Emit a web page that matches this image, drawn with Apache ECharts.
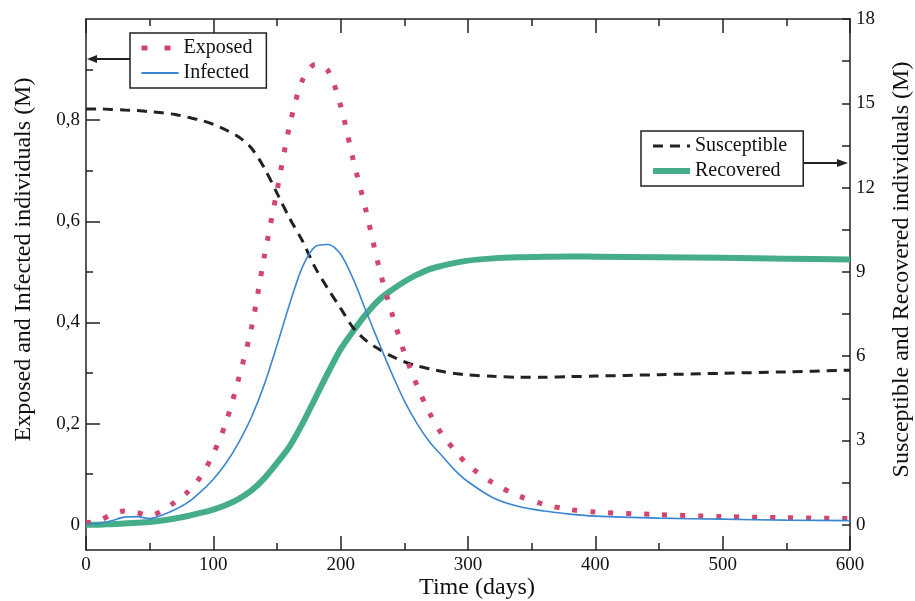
<!DOCTYPE html>
<html>
<head>
<meta charset="utf-8">
<script src="https://cdn.jsdelivr.net/npm/echarts@6/dist/echarts.min.js"></script>
<style>
html,body{margin:0;padding:0;background:#fff;overflow:hidden;width:915px;height:601px;}
#c{width:915px;height:601px;}
</style>
</head>
<body>
<div id="c"></div>
<script>
const days = [0,10,20,30,40,50,60,70,80,90,100,110,120,130,140,150,160,170,180,190,200,210,220,230,240,250,260,270,280,290,300,320,340,360,380,400,450,500,550,600];
const exposed = [0.004,0.008,0.02,0.027,0.024,0.018,0.028,0.045,0.065,0.095,0.14,0.203,0.29,0.39,0.53,0.66,0.79,0.879,0.91,0.898,0.828,0.72,0.62,0.51,0.42,0.34,0.275,0.22,0.177,0.146,0.118,0.082,0.057,0.040,0.030,0.025,0.020,0.016,0.014,0.012];
const infected = [0.002,0.003,0.008,0.015,0.016,0.012,0.019,0.03,0.044,0.065,0.09,0.122,0.163,0.213,0.277,0.355,0.437,0.51,0.55,0.554,0.535,0.485,0.422,0.36,0.30,0.245,0.20,0.163,0.135,0.107,0.085,0.053,0.036,0.027,0.021,0.017,0.013,0.011,0.009,0.008];
const susceptible = [14.8,14.8,14.78,14.76,14.74,14.7,14.66,14.6,14.5,14.4,14.25,14.05,13.8,13.4,12.7,11.8,10.9,10.1,9.15,8.4,7.7,7.0,6.55,6.25,6.0,5.8,5.65,5.55,5.45,5.38,5.33,5.28,5.25,5.25,5.27,5.29,5.34,5.39,5.44,5.5];
const recovered = [0,0.0,0.02,0.04,0.07,0.1,0.15,0.22,0.31,0.42,0.54,0.7,0.92,1.22,1.65,2.2,2.8,3.6,4.5,5.4,6.25,6.9,7.5,8.0,8.35,8.65,8.9,9.1,9.22,9.32,9.4,9.48,9.52,9.54,9.55,9.54,9.52,9.5,9.47,9.44];
const leftLabels = [0,0.2,0.4,0.6,0.8];
const leftMinor = [0.1,0.3,0.5,0.7,0.9];
const rightLabels = [0,3,6,9,12,15,18];
const rightTicks = [0,1.5,3,4.5,6,7.5,9,10.5,12,13.5,15,16.5,18];

const FONT = "'Liberation Serif','Times New Roman',serif";
const AX = '#222';
const C_EXP = '#d2466e', C_INF = '#3a86d0', C_SUS = '#222', C_REC = '#45ad87';

function pairs(ys){ return days.map((d,i)=>[d, ys[i]]); }

const chart = echarts.init(document.getElementById('c'), null, {width:915, height:601});
const lineCommon = {show:true, onZero:false, lineStyle:{color:AX, width:1.5}};
const hiddenSym = {color:'rgba(0,0,0,0)', borderWidth:0, opacity:0};
chart.setOption({
  backgroundColor:'#fff',
  animation:false,
  grid:{left:86, right:65, top:19, bottom:51, containLabel:false, outerBoundsMode:'none'},
  xAxis:[
    {type:'value', min:0, max:600, interval:100, position:'bottom',
     name:'Time (days)', nameLocation:'middle', nameGap:26, nameMoveOverlap:false,
     nameTextStyle:{fontFamily:FONT, fontSize:24, color:'#111', padding:[0,0,0,18]},
     axisLine:lineCommon,
     axisTick:{show:true, inside:true, length:14, lineStyle:{color:AX, width:1.5}},
     minorTick:{show:true, splitNumber:2, length:7, lineStyle:{color:AX, width:1.5}},
     axisLabel:{fontFamily:FONT, fontSize:19, color:'#111', margin:6},
     splitLine:{show:false}},
    {type:'value', min:0, max:600, interval:100, position:'top',
     axisLine:lineCommon,
     axisTick:{show:true, inside:true, length:14, lineStyle:{color:AX, width:1.5}},
     minorTick:{show:true, splitNumber:2, length:7, lineStyle:{color:AX, width:1.5}},
     axisLabel:{show:false}, splitLine:{show:false}}
  ],
  yAxis:[
    {type:'value', min:-0.05, max:1.0, position:'left',
     name:'Exposed and Infected individuals (M)', nameLocation:'middle', nameGap:50, nameRotate:90, nameMoveOverlap:false,
     nameTextStyle:{fontFamily:FONT, fontSize:24, color:'#111', padding:[0,0,0,50]},
     axisLine:lineCommon,
     axisTick:{show:true, inside:true, length:14, customValues:leftLabels, lineStyle:{color:AX, width:1.5}},
     axisLabel:{fontFamily:FONT, fontSize:19, color:'#111', margin:6, customValues:leftLabels,
       formatter:v=> v===0 ? '0' : String(Math.round(v*10)/10).replace('.',',')},
     splitLine:{show:false}},
    {type:'value', min:-0.9, max:18, position:'right',
     name:'Susceptible and Recovered individuals (M)', nameLocation:'middle', nameGap:40, nameRotate:90, nameMoveOverlap:false,
     nameTextStyle:{fontFamily:FONT, fontSize:24, color:'#111', padding:[0,0,0,30]},
     axisLine:lineCommon,
     axisTick:{show:true, inside:true, length:8, customValues:rightTicks, lineStyle:{color:AX, width:1.5}},
     axisLabel:{fontFamily:FONT, fontSize:19, color:'#111', margin:6, customValues:rightLabels},
     splitLine:{show:false}},
    {type:'value', min:-0.05, max:1.0, position:'left',
     axisLine:{show:false, onZero:false},
     axisTick:{show:true, inside:true, length:7, customValues:leftMinor, lineStyle:{color:AX, width:1.5}},
     axisLabel:{show:false}, splitLine:{show:false}}
  ],
  legend:[
    {data:[
       {name:'Exposed', itemStyle:hiddenSym, lineStyle:{color:C_EXP, width:5, type:[6,17], cap:'butt'}},
       {name:'Infected', itemStyle:hiddenSym, lineStyle:{color:C_INF, width:2}}
     ],
     left:130, top:33, orient:'vertical',
     backgroundColor:'#fff', borderColor:AX, borderWidth:1.5, padding:[5,14,5,9],
     itemWidth:37, itemHeight:14, itemGap:5,
     textStyle:{fontFamily:FONT, fontSize:20, color:'#111'}},
    {data:[
       {name:'Susceptible', itemStyle:hiddenSym, lineStyle:{color:C_SUS, width:3, type:[10,7]}},
       {name:'Recovered', itemStyle:hiddenSym, lineStyle:{color:C_REC, width:6}}
     ],
     left:641, top:131, orient:'vertical',
     backgroundColor:'#fff', borderColor:AX, borderWidth:1.5, padding:[5,16,5,9],
     itemWidth:37, itemHeight:14, itemGap:5,
     textStyle:{fontFamily:FONT, fontSize:20, color:'#111'}}
  ],
  graphic:[
    {type:'line', shape:{x1:130, y1:59, x2:94, y2:59}, style:{stroke:AX, lineWidth:2}, z:100},
    {type:'polygon', shape:{points:[[87,59],[97,55],[97,63]]}, style:{fill:AX}, z:100},
    {type:'line', shape:{x1:804, y1:163, x2:838, y2:163}, style:{stroke:AX, lineWidth:2}, z:100},
    {type:'polygon', shape:{points:[[848,163],[837,159],[837,167]]}, style:{fill:AX}, z:100}
  ],
  series:[
    {name:'Recovered', type:'line', xAxisIndex:0, yAxisIndex:1, data:pairs(recovered),
     showSymbol:false, symbol:'none', smooth:0.3, z:2,
     itemStyle:{color:C_REC}, lineStyle:{color:C_REC, width:6}},
    {name:'Susceptible', type:'line', xAxisIndex:0, yAxisIndex:1, data:pairs(susceptible),
     showSymbol:false, symbol:'none', smooth:0.3, z:3,
     itemStyle:{color:C_SUS}, lineStyle:{color:C_SUS, width:3, type:[10,7]}},
    {name:'Exposed', type:'line', xAxisIndex:0, yAxisIndex:0, data:pairs(exposed),
     showSymbol:false, symbol:'none', smooth:0.3, z:4,
     itemStyle:{color:C_EXP}, lineStyle:{color:C_EXP, width:5, type:[5,13], cap:'butt'}},
    {name:'Infected', type:'line', xAxisIndex:0, yAxisIndex:0, data:pairs(infected),
     showSymbol:false, symbol:'none', smooth:0.3, z:5,
     itemStyle:{color:C_INF}, lineStyle:{color:C_INF, width:1.6}}
  ]
});
</script>
</body>
</html>
